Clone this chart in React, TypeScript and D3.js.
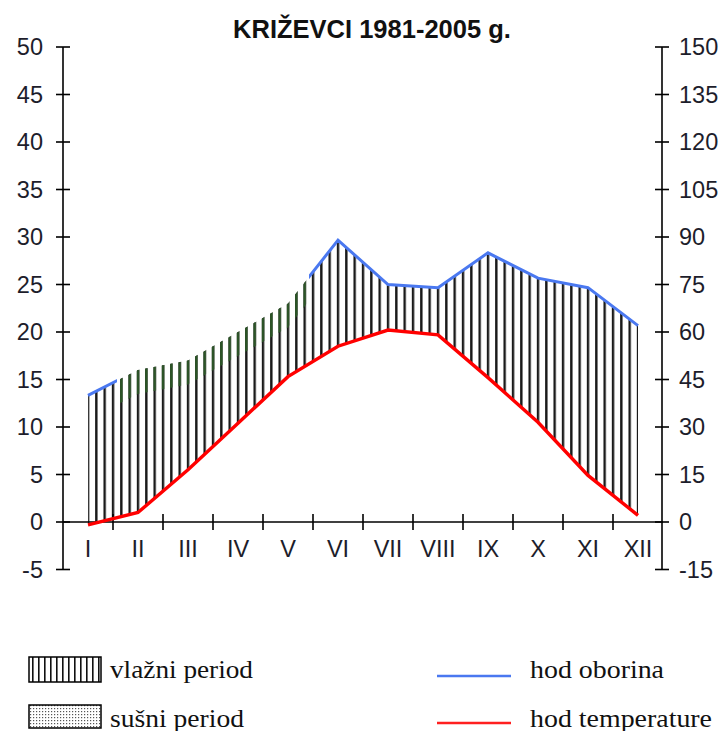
import * as d3 from 'd3';

const MONTHS = ['I', 'II', 'III', 'IV', 'V', 'VI', 'VII', 'VIII', 'IX', 'X', 'XI', 'XII'];
// srednja mjesecna temperatura (°C)
const TEMPERATURE = [-0.3, 1.0, 5.5, 10.4, 15.3, 18.5, 20.2, 19.7, 15.2, 10.5, 4.9, 0.7];
// srednja mjesecna oborina (mm)
const PRECIPITATION = [40, 48, 51, 60, 69, 89, 75, 74, 85, 77, 74, 62];
const TEMP_TICKS = [-5, 0, 5, 10, 15, 20, 25, 30, 35, 40, 45, 50];
const PRECIP_TICKS = [-15, 0, 15, 30, 45, 60, 75, 90, 105, 120, 135, 150];

const WIDTH = 725;
const HEIGHT = 731;
const LEFT = 63;
const RIGHT = 663;
const TOP = 47;
const BOTTOM = 569.5;

const AXIS_FONT = '"Liberation Sans", Arial, sans-serif';
const LEGEND_FONT = '"Liberation Serif", "Times New Roman", serif';

export default function App() {
    const xScale = d3.scaleBand().domain(MONTHS).range([LEFT, RIGHT]);
    const bw = xScale.bandwidth();
    const cx = (m: string) => (xScale(m) ?? 0) + bw / 2;

    const yT = d3.scaleLinear().domain([-5, 50]).range([BOTTOM, TOP]);
    const yP = d3.scaleLinear().domain([-15, 150]).range([BOTTOM, TOP]);

    const rows = MONTHS.map((m, i) => ({ m, t: TEMPERATURE[i], p: PRECIPITATION[i] }));

    const area = d3
        .area<{ m: string; t: number; p: number }>()
        .x((d) => cx(d.m))
        .y0((d) => yT(d.t))
        .y1((d) => yP(d.p));

    const greenBand = d3
        .area<{ m: string; t: number; p: number }>()
        .x((d) => cx(d.m))
        .y0((d) => Math.min(yP(d.p) + 24, yT(d.t)))
        .y1((d) => yP(d.p));

    const tempLine = d3
        .line<{ m: string; t: number }>()
        .x((d) => cx(d.m))
        .y((d) => yT(d.t));

    const precipLine = d3
        .line<{ m: string; p: number }>()
        .x((d) => cx(d.m))
        .y((d) => yP(d.p));

    const y0 = yT(0);
    const hatchStep = bw / 6;

    return (
        <svg width={WIDTH} height={HEIGHT} style={{ position: 'absolute', left: 0, top: 0, background: '#fff' }}>
            <defs>
                <pattern id="hatch" patternUnits="userSpaceOnUse" x={cx(MONTHS[0]) - 1.2} y={0} width={hatchStep} height={10}>
                    <rect x={0} y={0} width={2.4} height={10} fill="#1a1a1a" />
                </pattern>
                <pattern id="hatchGreen" patternUnits="userSpaceOnUse" x={cx(MONTHS[0]) - 1.2} y={0} width={hatchStep} height={10}>
                    <rect x={0} y={0} width={2.4} height={10} fill="#2b5526" />
                </pattern>
                <pattern id="legendHatch" patternUnits="userSpaceOnUse" x={30} y={0} width={6} height={10}>
                    <rect x={2} y={0} width={1.6} height={10} fill="#111" />
                </pattern>
                <pattern id="legendDots" patternUnits="userSpaceOnUse" x={0} y={0} width={3} height={3}>
                    <rect x={0} y={0} width={1.2} height={1.2} fill="#555" />
                </pattern>
                <clipPath id="greenClip">
                    <rect x={117} y={0} width={192} height={HEIGHT} />
                </clipPath>
                <clipPath id="blueClip">
                    <rect x={0} y={0} width={117} height={HEIGHT} />
                    <rect x={309} y={0} width={WIDTH - 309} height={HEIGHT} />
                </clipPath>
            </defs>

            {/* title */}
            <text x={372} y={38} textAnchor="middle" fontFamily={AXIS_FONT} fontWeight="bold" fontSize={25.5} fill="#111">
                KRIŽEVCI 1981-2005 g.
            </text>

            {/* vlazni period */}
            <path d={area(rows) ?? ''} fill="url(#hatch)" />
            <path d={greenBand(rows) ?? ''} fill="url(#hatchGreen)" clipPath="url(#greenClip)" />

            {/* left axis */}
            <line x1={LEFT} x2={LEFT} y1={TOP} y2={BOTTOM} stroke="#000" strokeWidth={1.6} />
            {TEMP_TICKS.map((v) => (
                <g key={'l' + v}>
                    <line x1={LEFT - 7} x2={LEFT + 7} y1={yT(v)} y2={yT(v)} stroke="#000" strokeWidth={1.6} />
                    <text x={43} y={yT(v)} dy="0.36em" textAnchor="end" fontFamily={AXIS_FONT} fontSize={23.5} fill="#1d1d2b">
                        {v}
                    </text>
                </g>
            ))}

            {/* right axis */}
            <line x1={RIGHT - 1} x2={RIGHT - 1} y1={TOP} y2={BOTTOM} stroke="#000" strokeWidth={1.6} />
            {PRECIP_TICKS.map((v) => (
                <g key={'r' + v}>
                    <line x1={RIGHT - 8} x2={RIGHT + 6} y1={yP(v)} y2={yP(v)} stroke="#000" strokeWidth={1.6} />
                    <text x={679} y={yP(v)} dy="0.36em" textAnchor="start" fontFamily={AXIS_FONT} fontSize={23.5} fill="#1d1d2b">
                        {v}
                    </text>
                </g>
            ))}

            {/* x axis at zero */}
            <line x1={LEFT} x2={RIGHT} y1={y0} y2={y0} stroke="#000" strokeWidth={1.6} />
            {MONTHS.slice(1).map((m) => (
                <line key={'t' + m} x1={xScale(m)} x2={xScale(m)} y1={y0 - 8} y2={y0 + 8} stroke="#000" strokeWidth={1.6} />
            ))}
            {MONTHS.map((m) => (
                <text key={'m' + m} x={cx(m)} y={549} dy="0.36em" textAnchor="middle" fontFamily={AXIS_FONT} fontSize={23.5} fill="#1d1d2b">
                    {m}
                </text>
            ))}

            {/* hod oborina i temperature */}
            <path d={precipLine(rows) ?? ''} fill="none" stroke="#4a78f0" strokeWidth={3} clipPath="url(#blueClip)" />
            <path d={tempLine(rows) ?? ''} fill="none" stroke="#ff0000" strokeWidth={3.4} />

            {/* legend */}
            <rect x={29} y={657} width={72} height={25} fill="url(#legendHatch)" stroke="#000" strokeWidth={1.5} />
            <text x={110} y={678} fontFamily={LEGEND_FONT} fontSize={25} fill="#111" textLength={143} lengthAdjust="spacingAndGlyphs">
                vlažni period
            </text>
            <rect x={29} y={705} width={72} height={23} fill="url(#legendDots)" stroke="#000" strokeWidth={1.5} />
            <text x={110} y={727} fontFamily={LEGEND_FONT} fontSize={25} fill="#111" textLength={134} lengthAdjust="spacingAndGlyphs">
                sušni period
            </text>

            <line x1={437} x2={511} y1={676} y2={676} stroke="#4a78f0" strokeWidth={2.5} />
            <text x={530} y={678} fontFamily={LEGEND_FONT} fontSize={25} fill="#111" textLength={134} lengthAdjust="spacingAndGlyphs">
                hod oborina
            </text>
            <line x1={437} x2={511} y1={723} y2={723} stroke="#ff2020" strokeWidth={2.5} />
            <text x={530} y={727} fontFamily={LEGEND_FONT} fontSize={25} fill="#111" textLength={182} lengthAdjust="spacingAndGlyphs">
                hod temperature
            </text>
        </svg>
    );
}
